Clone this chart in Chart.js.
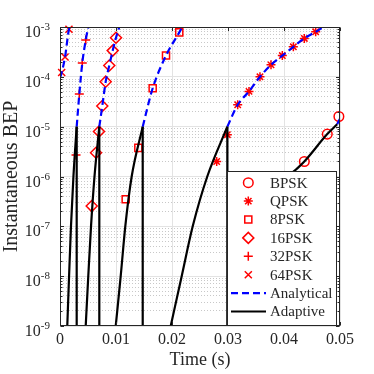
<!DOCTYPE html>
<html>
<head>
<meta charset="utf-8">
<script src="https://cdn.jsdelivr.net/npm/chart.js@4/dist/chart.umd.min.js"></script>
<style>
  html, body { margin: 0; padding: 0; background: #fff; }
  canvas { display: block; }
</style>
</head>
<body>
<canvas id="bepChart" width="374" height="374"></canvas>
<script>
// Axis ticks
const xTicks = [0, 0.01, 0.02, 0.03, 0.04, 0.05];
const xTickLabels = ['0', '0.01', '0.02', '0.03', '0.04', '0.05'];
const yExponents = [-9, -8, -7, -6, -5, -4, -3];

// Simulated points (markers)
const bpskT = [0.04363, 0.04773, 0.0498];
const bpskBep = [2.0e-6, 7.1e-6, 1.6e-5];
const qpskT = [0.02798, 0.02988, 0.03173, 0.03375, 0.03571, 0.03768, 0.0397, 0.04167, 0.04363, 0.04566];
const qpskBep = [2.0e-6, 6.9e-6, 2.75e-5, 5.1e-5, 1.0e-4, 1.74e-4, 2.67e-4, 4.0e-4, 5.9e-4, 8.0e-4];
const psk8T = [0.01173, 0.01399, 0.01655, 0.01893, 0.0213];
const psk8Bep = [3.5e-7, 3.75e-6, 5.9e-5, 2.67e-4, 7.8e-4];
const psk16T = [0.00566, 0.00643, 0.00696, 0.00755, 0.00816, 0.0088, 0.00941, 0.0100];
const psk16Bep = [2.55e-7, 3.0e-6, 8.0e-6, 2.6e-5, 8.0e-5, 1.69e-4, 3.36e-4, 6.1e-4];
const psk32T = [0.00286, 0.00345, 0.00398, 0.0046];
const psk32Bep = [2.7e-6, 4.5e-5, 1.9e-4, 5.5e-4];
const psk64T = [0.0003, 0.0009, 0.0016];
const psk64Bep = [1.22e-4, 2.5e-4, 9.0e-4];

// Analytical curves (above the switching threshold)
const ana64T = [0, 0.0003, 0.0009, 0.0016, 0.0018];
const ana64Bep = [9.5e-5, 1.22e-4, 2.5e-4, 9.0e-4, 1e-3];
const ana32T = [0.00298, 0.00345, 0.00398, 0.0046, 0.00505];
const ana32Bep = [1e-5, 4.5e-5, 1.9e-4, 5.5e-4, 1e-3];
const ana16T = [0.00702, 0.00755, 0.00816, 0.0088, 0.00941, 0.0100, 0.01059];
const ana16Bep = [1e-5, 2.6e-5, 8.0e-5, 1.69e-4, 3.36e-4, 6.1e-4, 1e-3];
const ana8T = [0.01477, 0.01655, 0.01893, 0.0213, 0.02184];
const ana8Bep = [1e-5, 5.9e-5, 2.67e-4, 7.8e-4, 1e-3];
const anaQT = [0.02988, 0.03173, 0.03375, 0.03571, 0.03768, 0.0397, 0.04167, 0.04363, 0.04566, 0.0470];
const anaQBep = [1e-5, 2.75e-5, 5.1e-5, 1.0e-4, 1.74e-4, 2.67e-4, 4.0e-4, 5.9e-4, 8.0e-4, 1e-3];
const anaBT = [0.0495, 0.05];
const anaBBep = [1.12e-5, 1.45e-5];

// Adaptive scheme: rising segments and the switching instants (drops)
const adaptDecades = [1e-9, 1e-8, 1e-7, 1e-6, 1e-5];
const adapt32T = [0.0013, 0.00162, 0.00196, 0.0024, 0.00298];
const adapt16T = [0.00459, 0.00505, 0.00554, 0.00616, 0.00702];
const adapt8T = [0.00995, 0.01084, 0.01166, 0.0128, 0.01477];
const adaptQT = [0.01977, 0.02173, 0.0237, 0.0263, 0.02988];
const adaptBT = [0.03214, 0.03482, 0.03714, 0.04089, 0.04214, 0.04363, 0.04773, 0.0495];
const adaptBBep = [1e-9, 1e-8, 1e-7, 1e-6, 1.38e-6, 2.0e-6, 7.1e-6, 1.12e-5];
const switchT = [0.00298, 0.00702, 0.01477, 0.02988];
const switchBep = [1e-5, 1e-5, 1e-5, 1e-5];

const axisColor = '#262626';
const red = '#ff0000';
const blue = '#0000ff';
const serif = 'Liberation Serif';

function pts(ts, vs) {
  return ts.map((t, i) => ({ x: t, y: vs[i] }));
}
function joinSegments(segs) {
  const out = [];
  segs.forEach((s, k) => {
    if (k > 0) out.push({ x: s[0].x, y: null });
    out.push(...s);
  });
  return out;
}

const analyticalData = joinSegments([
  pts(ana64T, ana64Bep), pts(ana32T, ana32Bep), pts(ana16T, ana16Bep),
  pts(ana8T, ana8Bep), pts(anaQT, anaQBep), pts(anaBT, anaBBep)
]);
const adaptiveData = joinSegments([
  pts(adapt32T, adaptDecades), pts(adapt16T, adaptDecades),
  pts(adapt8T, adaptDecades), pts(adaptQT, adaptDecades),
  pts(adaptBT, adaptBBep)
]);
const dropData = joinSegments(switchT.map((t, i) => [
  { x: t, y: switchBep[i] }, { x: t, y: 1e-12 }
]));

// y grid values: 1..9 x 10^n
const yGridValues = [];
for (let e = -9; e < -3; e++) {
  for (let m = 1; m <= 9; m++) yGridValues.push(m * Math.pow(10, e));
}
yGridValues.push(1e-3);
function isDecade(v) {
  const l = Math.log10(v);
  return Math.abs(l - Math.round(l)) < 1e-6;
}

const markerSets = [
  { label: 'BPSK', t: bpskT, v: bpskBep, style: 'circle', r: 4.8 },
  { label: 'QPSK', t: qpskT, v: qpskBep, style: 'star', r: 4.5 },
  { label: '8PSK', t: psk8T, v: psk8Bep, style: 'rect', r: 5 },
  { label: '16PSK', t: psk16T, v: psk16Bep, style: 'rectRot', r: 5.5 },
  { label: '32PSK', t: psk32T, v: psk32Bep, style: 'cross', r: 4.5 },
  { label: '64PSK', t: psk64T, v: psk64Bep, style: 'crossRot', r: 5 }
];

const datasets = [
  {
    label: 'Adaptive', data: adaptiveData, showLine: true, spanGaps: false,
    borderColor: '#000', borderWidth: 2.2, pointRadius: 0,
    cubicInterpolationMode: 'monotone', order: 1
  },
  {
    label: 'Adaptive switch', data: dropData, showLine: true, spanGaps: false,
    borderColor: '#000', borderWidth: 2.2, pointRadius: 0, tension: 0, order: 1
  },
  {
    label: 'Analytical', data: analyticalData, showLine: true, spanGaps: false,
    borderColor: blue, borderWidth: 2.2, borderDash: [7, 4], pointRadius: 0,
    cubicInterpolationMode: 'monotone', order: 2
  }
].concat(markerSets.map(m => ({
  label: m.label, data: pts(m.t, m.v), showLine: false,
  pointStyle: m.style, pointRadius: m.r, pointBorderWidth: 1.5,
  pointBorderColor: red, pointBackgroundColor: 'rgba(0,0,0,0)',
  borderColor: red, backgroundColor: 'rgba(0,0,0,0)', clip: false, order: 3
})));

const framePlugin = {
  id: 'frame',
  afterDraw(chart) {
    const { ctx, chartArea: a, scales: { x, y } } = chart;
    const L = Math.round(a.left) + 0.5, R = Math.round(a.right) - 0.5;
    const T = Math.round(a.top) + 0.5, B = Math.round(a.bottom) - 0.5;
    ctx.save();
    ctx.strokeStyle = axisColor;
    ctx.lineWidth = 1;
    ctx.beginPath();
    y.ticks.forEach(t => {
      const py = Math.round(y.getPixelForValue(t.value)) + 0.5;
      const len = isDecade(t.value) ? 3.5 : 2;
      ctx.moveTo(L, py); ctx.lineTo(L + len, py);
      ctx.moveTo(R, py); ctx.lineTo(R - len, py);
    });
    x.ticks.forEach(t => {
      const px = Math.round(x.getPixelForValue(t.value)) + 0.5;
      ctx.moveTo(px, B); ctx.lineTo(px, B - 3.5);
      ctx.moveTo(px, T); ctx.lineTo(px, T + 3.5);
    });
    ctx.stroke();
    ctx.strokeRect(L, T, R - L, B - T);

    // y tick labels: 10^n
    ctx.fillStyle = axisColor;
    ctx.textBaseline = 'alphabetic';
    ctx.textAlign = 'left';
    yExponents.forEach(e => {
      const py = y.getPixelForValue(Math.pow(10, e));
      const sup = String(e);
      ctx.font = '11px "' + serif + '"';
      const w2 = ctx.measureText(sup).width;
      ctx.font = '16px "' + serif + '"';
      const w1 = ctx.measureText('10').width;
      const right = a.left - 10;
      ctx.fillText('10', right - w2 - w1, py + 10);
      ctx.font = '11px "' + serif + '"';
      ctx.fillText(sup, right - w2, py + 3);
    });

    // legend box
    const bx = 227, by = 171, bw = 109, bh = Math.round(a.bottom) - by;
    ctx.fillStyle = '#fff';
    ctx.fillRect(bx, by, bw, bh);
    ctx.strokeStyle = axisColor;
    ctx.strokeRect(bx + 0.5, by + 0.5, bw, bh - 1);
    const rowY0 = 182.7, rowDy = 18.4;
    const mx = 248.3, tx = 270;
    ctx.font = '15px "' + serif + '"';
    ctx.textBaseline = 'middle';
    markerSets.forEach((m, i) => {
      const ry = rowY0 + i * rowDy;
      ctx.strokeStyle = red;
      ctx.fillStyle = 'rgba(0,0,0,0)';
      ctx.lineWidth = 1.5;
      Chart.helpers.drawPoint(ctx, { pointStyle: m.style, radius: m.r, rotation: 0, borderWidth: 1.5 }, mx, ry);
      ctx.fillStyle = axisColor;
      ctx.fillText(m.label, tx, ry + 1);
    });
    const lines = [
      { label: 'Analytical', color: blue, dash: [7, 4] },
      { label: 'Adaptive', color: '#000', dash: [] }
    ];
    lines.forEach((l, j) => {
      const ry = rowY0 + (markerSets.length + j) * rowDy;
      ctx.strokeStyle = l.color;
      ctx.lineWidth = 2.2;
      ctx.setLineDash(l.dash);
      ctx.beginPath();
      ctx.moveTo(231, ry); ctx.lineTo(266, ry);
      ctx.stroke();
      ctx.setLineDash([]);
      ctx.fillStyle = axisColor;
      ctx.fillText(l.label, tx, ry + 1);
    });
    ctx.restore();
  }
};

new Chart(document.getElementById('bepChart').getContext('2d'), {
  type: 'scatter',
  data: { datasets: datasets },
  options: {
    responsive: false,
    animation: false,
    devicePixelRatio: 1,
    layout: { padding: { left: 0, right: 34, top: 27, bottom: 0 } },
    plugins: { legend: { display: false }, tooltip: { enabled: false } },
    scales: {
      x: {
        type: 'linear', min: 0, max: 0.05,
        afterBuildTicks: s => { s.ticks = xTicks.map(v => ({ value: v })); },
        afterFit: s => { s.height = 48; },
        grid: { color: '#e3e3e3', lineWidth: 1, drawTicks: false },
        border: { display: false },
        ticks: {
          padding: 4,
          color: axisColor,
          font: { family: serif, size: 16 },
          maxRotation: 0,
          callback: (v, i) => xTickLabels[i]
        },
        title: {
          display: true, text: 'Time (s)', color: axisColor,
          font: { family: serif, size: 18, lineHeight: 1.2 },
          padding: { top: 0, bottom: 3 }
        }
      },
      y: {
        type: 'logarithmic', min: 1e-9, max: 1e-3,
        afterBuildTicks: s => { s.ticks = yGridValues.map(v => ({ value: v })); },
        afterFit: s => { s.width = 60; },
        grid: {
          drawTicks: false,
          lineWidth: 1,
          color: c => (c.tick && isDecade(c.tick.value)) ? '#e3e3e3' : '#c8c8c8'
        },
        border: {
          display: false,
          dash: c => (c.tick && !isDecade(c.tick.value)) ? [1, 2] : []
        },
        ticks: { display: false },
        title: {
          display: true, text: 'Instantaneous BEP', color: axisColor,
          font: { family: serif, size: 20, lineHeight: 1.2 },
          padding: { top: 0, bottom: 0 }
        }
      }
    }
  },
  plugins: [framePlugin]
});
</script>
</body>
</html>
